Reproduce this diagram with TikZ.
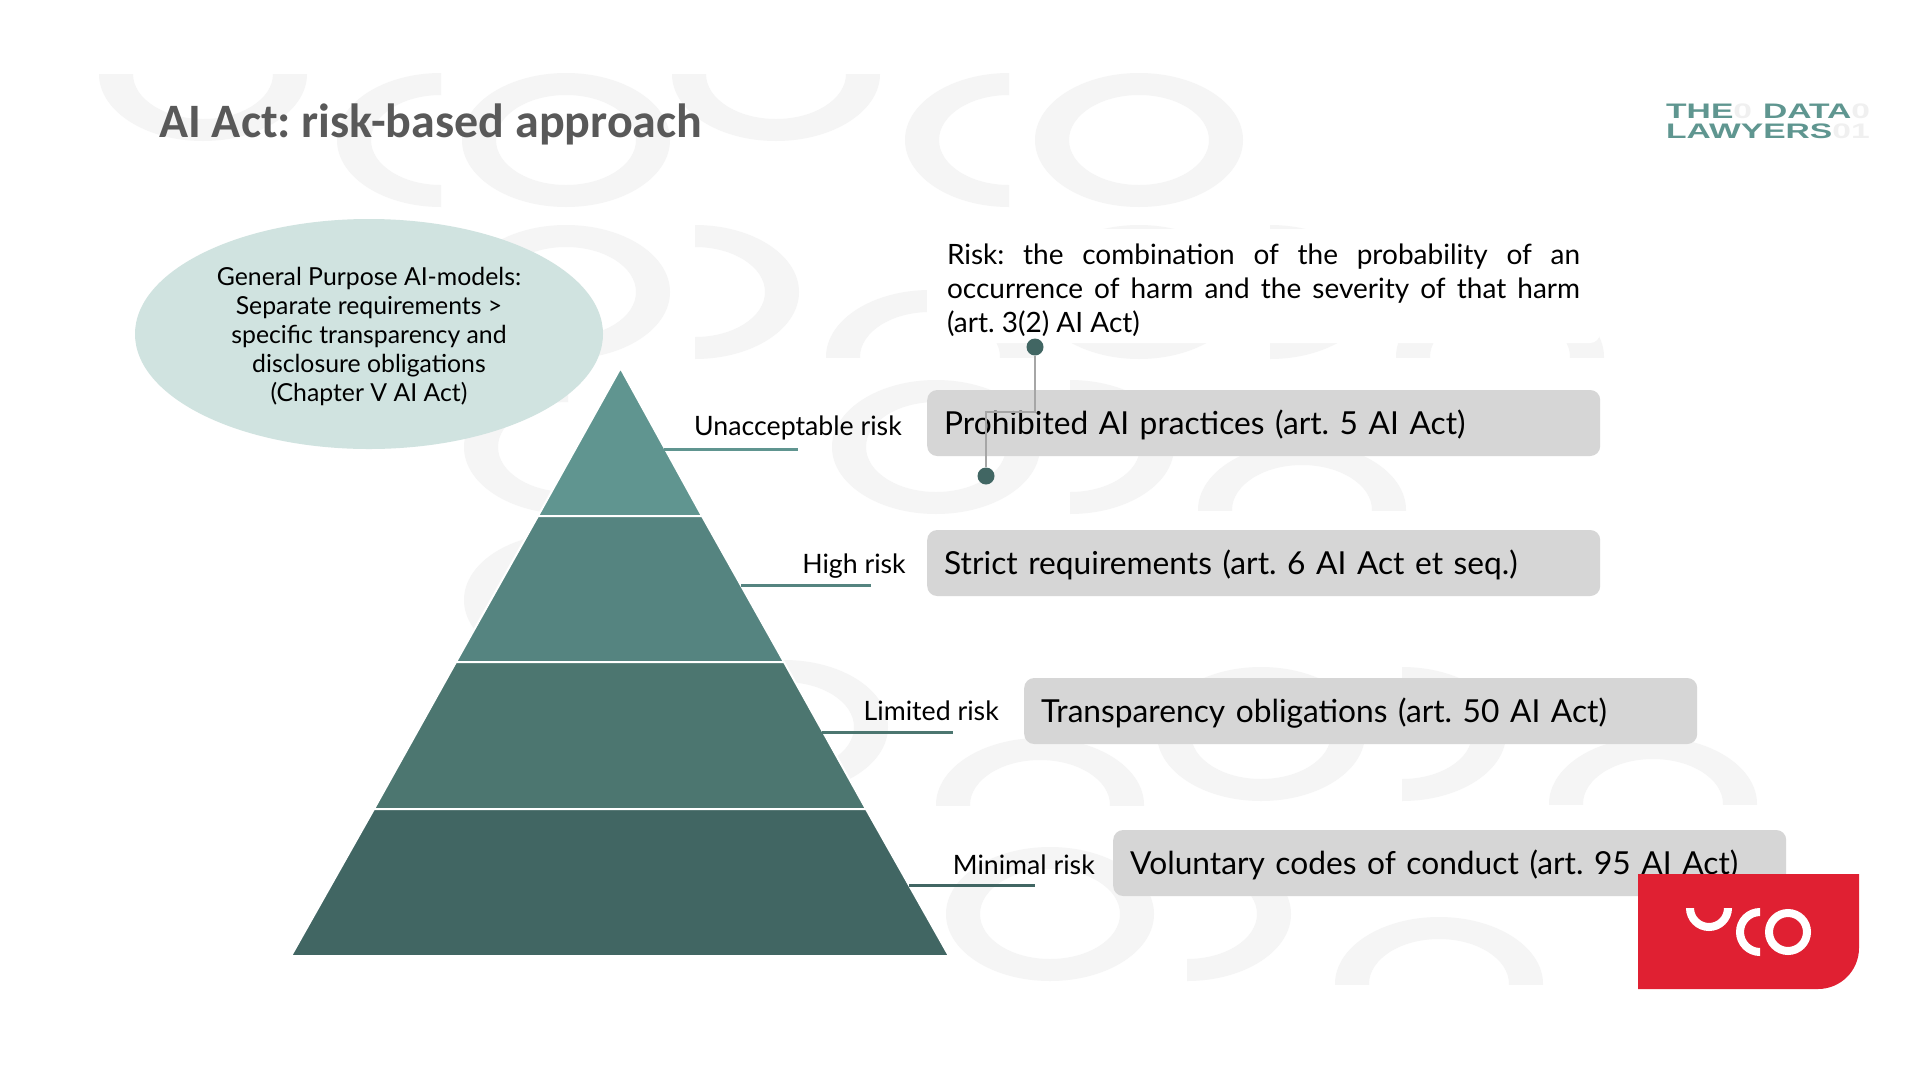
\documentclass[tikz,border=0pt]{standalone}
\usepackage{fontspec}
\setmainfont{Lato}
\newfontfamily\titlefont{Carlito}
\newfontfamily\logofont[FakeStretch=1.6]{Liberation Sans}
\usetikzlibrary{shapes.geometric}
\definecolor{wmgrey}{HTML}{F5F5F5}
\definecolor{bandA}{HTML}{609590}
\definecolor{bandB}{HTML}{558480}
\definecolor{bandC}{HTML}{4C7670}
\definecolor{bandD}{HTML}{416663}
\definecolor{ellipsefill}{HTML}{D0E3E0}
\definecolor{boxgrey}{HTML}{D6D6D6}
\definecolor{ucored}{HTML}{E02032}
\definecolor{logoteal}{HTML}{5F9690}
\tikzset{
  riskbox/.style={anchor=west,fill=boxgrey,rounded corners=10,text width=639,inner xsep=17,
    minimum height=66,align=left,text height=29,text depth=6,font=\fontsize{31.7}{38}\selectfont},
  risklabel/.style={anchor=base east,font=\fontsize{26.7}{30}\selectfont},
  bandshape/.style={draw=white,line width=2},
  dotnode/.style={circle,fill=bandD,minimum size=17,inner sep=0},
}
\begin{document}
\frenchspacing
\begin{tikzpicture}[x=1pt,y=-1pt]
  \useasboundingbox[fill=white] (0,0) rectangle (1920,1080);
  \foreach \cx/\cy/\xa/\ya/\xb/\yb in {
    203/74/-110/0/110/70,441/140/-110/-70/0/70,566/140/-110/-70/110/70,
    776/74/-110/0/110/70,1009/140/-110/-70/0/70,1139/140/-110/-70/110/70,
    566/292/-110/-70/110/70,695/292/0/-70/110/70,930/357/-110/-70/110/0,
    1139/292/-110/-70/110/70,1270/292/0/-70/110/70,1500/357/-110/-70/110/0,
    568/447/-110/-70/0/70,936/447/-110/-70/110/70,1070/447/0/-70/110/70,
    1302/510/-110/-70/110/0,568/600/-110/-70/0/70,784/727/0/-70/110/70,
    1040/805/-110/-70/110/0,1261/734/-110/-70/110/70,1402/734/0/-70/110/70,
    1653/804/-110/-70/110/0,1050/914/-110/-70/110/70,1187/914/0/-70/110/70,
    1439/984/-110/-70/110/0} {
    \begin{scope}
      \clip (\cx+\xa,\cy+\ya) rectangle (\cx+\xb,\cy+\yb);
      \fill[wmgrey,even odd rule] (\cx,\cy) ellipse [x radius=104,y radius=67]
        (\cx,\cy) ellipse [x radius=70,y radius=45];
    \end{scope}
  }
  \node[font=\titlefont\bfseries\fontsize{48}{50}\selectfont,text=black!65,anchor=base west,inner sep=0]
    (title) at (159,137) {AI Act: risk-based approach};
  \node[font=\logofont\bfseries\fontsize{21}{21}\selectfont,text=logoteal,anchor=base west,inner sep=0]
    (logoa) at (1666,118) {THE\textcolor{black!6}{0}\hspace{11pt}DATA\textcolor{black!6}{0}};
  \node[font=\logofont\bfseries\fontsize{21}{21}\selectfont,text=logoteal,anchor=base west,inner sep=0]
    (logob) at (1666,138) {LAWYERS\textcolor{black!6}{01}};
  \node[ellipse,fill=ellipsefill,minimum width=468,minimum height=230,inner sep=0,align=center,
    font=\fontsize{24.8}{29}\selectfont] (gpai) at (369,334)
    {\rule{0pt}{23pt}General Purpose AI-models:\\Separate requirements >\\specific transparency and\\disclosure obligations\\(Chapter V AI Act)};
  \draw[bandshape,fill=bandA] (620.5,368) -- (702,516) -- (538,516) -- cycle;
  \draw[bandshape,fill=bandB] (538,516) -- (702,516) -- (784,662) -- (456,662) -- cycle;
  \draw[bandshape,fill=bandC] (456,662) -- (784,662) -- (866,809) -- (374,809) -- cycle;
  \draw[bandshape,fill=bandD] (374,809) -- (866,809) -- (949,956) -- (291,956) -- cycle;
  \foreach \i/\xa/\xb/\y/\c in {1/664/798/449/bandA,2/741/871/585/bandB,3/822/953/732/bandC,4/909/1035/885/bandD} {
    \coordinate (leadl\i) at (\xa,\y);
    \coordinate (leadr\i) at (\xb,\y);
    \draw[\c,line width=3] (leadl\i) -- (leadr\i);
  }
  \foreach \i/\x/\y/\t in {1/902/435/Unacceptable risk,2/906/573/High risk,3/999/720/Limited risk,4/1095/874/Minimal risk}
    \node[risklabel,inner sep=0] (label\i) at (\x,\y) {\t};
  \foreach \i/\x/\y/\t in {1/927/423/Prohibited AI practices (art. 5 AI Act),
    2/927/563/Strict requirements (art. 6 AI Act et seq.),
    3/1024/711/Transparency obligations (art. 50 AI Act),
    4/1113/863/Voluntary codes of conduct (art. 95 AI Act)}
    \node[riskbox] (box\i) at (\x,\y) {\t};
  \node[fill=white,rounded corners=10,text width=633,inner xsep=20,inner ysep=0,minimum height=114,
    align=justify,font=\fontsize{28}{34}\selectfont] (riskdef) at (1263.5,286)
    {\rule{0pt}{30pt}Risk: the combination of the probability of an\linebreak occurrence of harm and the severity of that harm\linebreak (art. 3(2) AI Act)};
  \node[dotnode] (dota) at (1035,347) {};
  \node[dotnode] (dotb) at (986,476) {};
  \coordinate (bend) at (986,412);
  \draw[black!35,line width=1.5] (dota) |- (bend) -- (dotb);
  \fill[ucored] (1638,874) -- (1859,874) {[rounded corners=41] -- (1859,989)} -- (1638,989) -- cycle;
  \begin{scope}
    \clip (1680,908) rectangle (1740,940);
    \draw[white,line width=8] (1709,908) circle [radius=19];
  \end{scope}
  \begin{scope}
    \clip (1730,900) rectangle (1760,960);
    \draw[white,line width=8] (1760,932) circle [radius=20];
  \end{scope}
  \draw[white,line width=8] (1788,932) circle [radius=19];
\end{tikzpicture}
\end{document}
